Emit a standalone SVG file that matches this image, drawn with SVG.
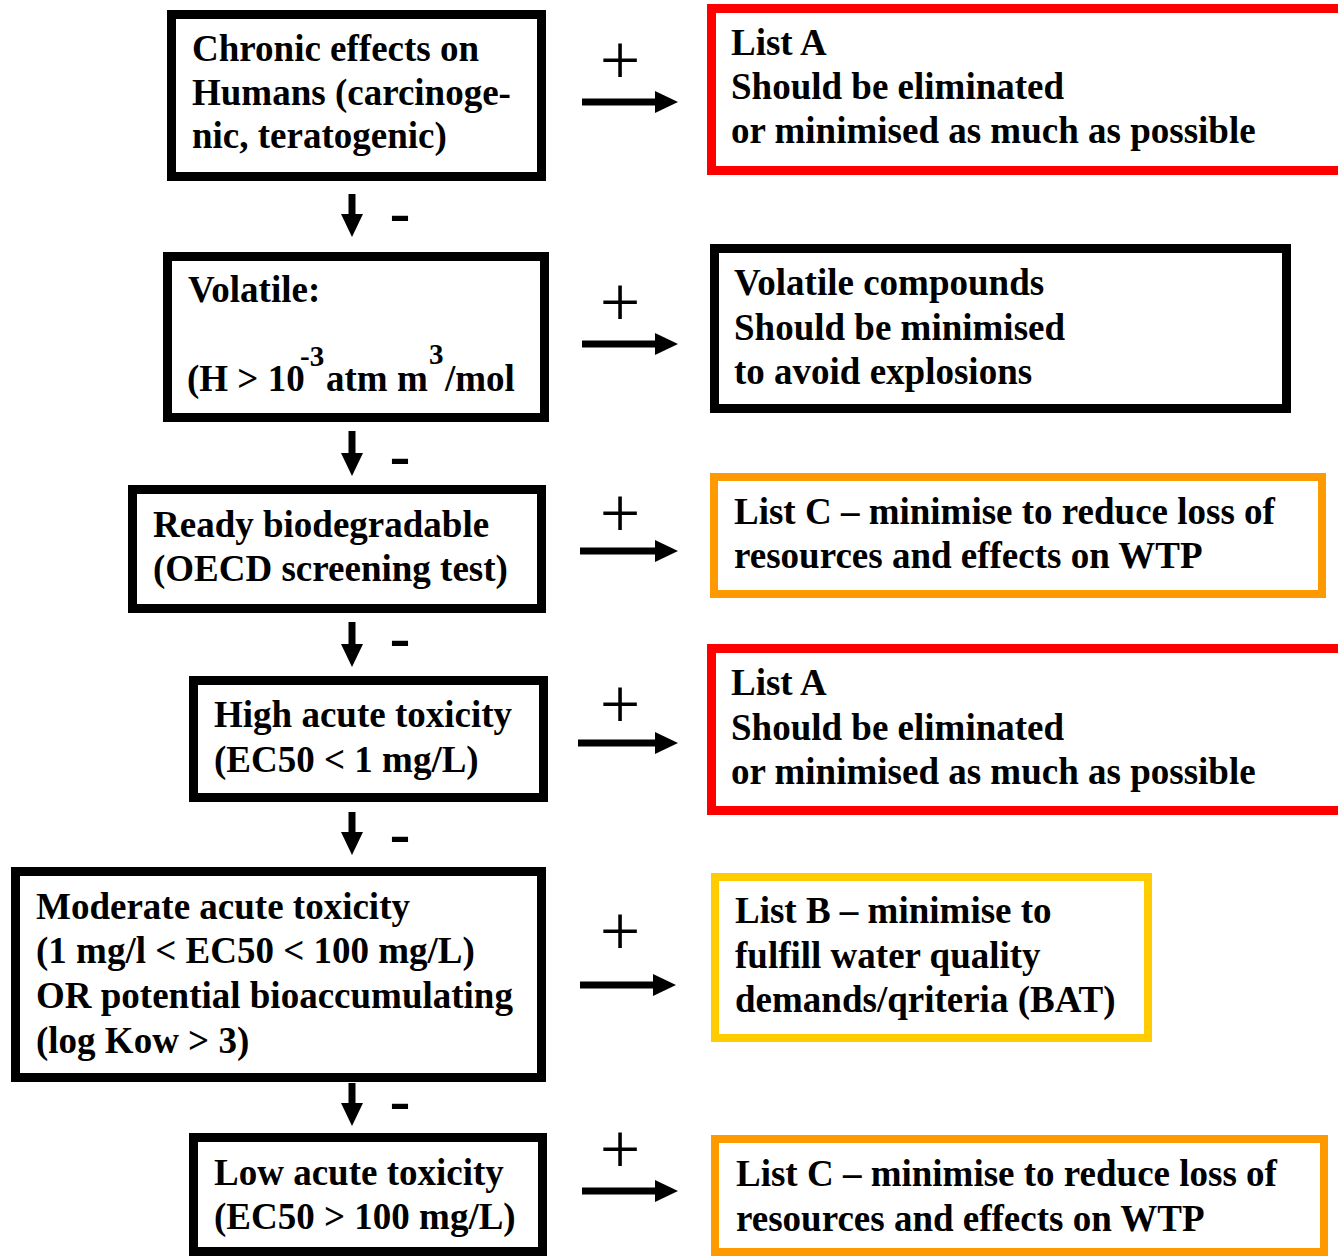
<svg xmlns="http://www.w3.org/2000/svg" width="1338" height="1256" viewBox="0 0 1338 1256">
<style>
.t{font-family:"Liberation Serif","Times New Roman",serif;font-weight:bold;font-size:37px;fill:#000}
.sup{font-size:29px}
.box{fill:#fff;stroke-width:9}
.blk{stroke:#000}
.red{stroke:#ff0000}
.org{stroke:#ff9900;stroke-width:8}
.yel{stroke:#ffcc00;stroke-width:8}
.plus{font-family:"Liberation Serif","Times New Roman",serif;font-size:72px;font-weight:normal;fill:#000;text-anchor:middle}
.minus{font-family:"Liberation Sans",Arial,sans-serif;font-size:66px;fill:#000;text-anchor:middle}
.arr{stroke:#000;stroke-width:7;fill:none;marker-end:url(#ah)}
</style>
<defs>
<marker id="ah" markerUnits="userSpaceOnUse" markerWidth="24" markerHeight="24" viewBox="0 0 24 24" refX="1" refY="12" orient="auto">
<path d="M0,1 L23,12 L0,23 Z" fill="#000"/>
</marker>
</defs>
<rect width="1338" height="1256" fill="#fff"/>

<g id="connectors">
<line class="arr" x1="582" y1="102" x2="656" y2="102"/>
<line class="arr" x1="582" y1="344" x2="656" y2="344"/>
<line class="arr" x1="580" y1="551" x2="656" y2="551"/>
<line class="arr" x1="578" y1="743" x2="656" y2="743"/>
<line class="arr" x1="580" y1="985" x2="654" y2="985"/>
<line class="arr" x1="582" y1="1191" x2="656" y2="1191"/>
<line class="arr" x1="352" y1="194" x2="352" y2="215"/>
<line class="arr" x1="352" y1="431" x2="352" y2="454"/>
<line class="arr" x1="352" y1="622" x2="352" y2="645"/>
<line class="arr" x1="352" y1="812" x2="352" y2="833"/>
<line class="arr" x1="352" y1="1083" x2="352" y2="1104"/>
<text class="plus" x="620" y="84">+</text>
<text class="plus" x="620" y="326">+</text>
<text class="plus" x="620" y="537">+</text>
<text class="plus" x="620" y="728">+</text>
<text class="plus" x="620" y="955">+</text>
<text class="plus" x="620" y="1173">+</text>
<text class="minus" x="400" y="236">-</text>
<text class="minus" x="400" y="479">-</text>
<text class="minus" x="400" y="661">-</text>
<text class="minus" x="400" y="857">-</text>
<text class="minus" x="400" y="1124">-</text>
</g>

<g id="n1">
<rect class="box blk" x="171.5" y="14.5" width="370" height="162"/>
<text class="t" x="192" y="61">Chronic effects on</text>
<text class="t" x="192" y="105">Humans (carcinoge-</text>
<text class="t" x="192" y="148">nic, teratogenic)</text>
</g>
<g id="r1">
<rect class="box red" x="711.5" y="8.5" width="700" height="162"/>
<text class="t" x="731" y="55">List A</text>
<text class="t" x="731" y="99">Should be eliminated</text>
<text class="t" x="731" y="143">or minimised as much as possible</text>
</g>

<g id="n2">
<rect class="box blk" x="167.5" y="256.5" width="377" height="161"/>
<text class="t" x="188" y="302">Volatile:</text>
<text class="t" x="187" y="391">(H &gt; 10<tspan class="sup" x="300" y="366">-3</tspan><tspan x="326" y="391">atm m</tspan><tspan class="sup" x="429" y="364">3</tspan><tspan x="445" y="391">/mol</tspan></text>
</g>
<g id="r2">
<rect class="box blk" x="714.5" y="248.5" width="572" height="160"/>
<text class="t" x="734" y="295">Volatile compounds</text>
<text class="t" x="734" y="340">Should be minimised</text>
<text class="t" x="734" y="384">to avoid explosions</text>
</g>

<g id="n3">
<rect class="box blk" x="132.5" y="489.5" width="409" height="119"/>
<text class="t" x="153" y="537">Ready biodegradable</text>
<text class="t" x="153" y="581">(OECD screening test)</text>
</g>
<g id="r3">
<rect class="box org" x="714" y="477" width="608" height="117"/>
<text class="t" x="734" y="524">List C – minimise to reduce loss of</text>
<text class="t" x="734" y="568">resources and effects on WTP</text>
</g>

<g id="n4">
<rect class="box blk" x="193.5" y="680.5" width="350" height="117"/>
<text class="t" x="214" y="727">High acute toxicity</text>
<text class="t" x="214" y="772">(EC50 &lt; 1 mg/L)</text>
</g>
<g id="r4">
<rect class="box red" x="711.5" y="648.5" width="700" height="162"/>
<text class="t" x="731" y="695">List A</text>
<text class="t" x="731" y="740">Should be eliminated</text>
<text class="t" x="731" y="784">or minimised as much as possible</text>
</g>

<g id="n5">
<rect class="box blk" x="15.5" y="871.5" width="526" height="206"/>
<text class="t" x="36" y="919">Moderate acute toxicity</text>
<text class="t" x="36" y="963">(1 mg/l &lt; EC50 &lt; 100 mg/L)</text>
<text class="t" x="36" y="1008">OR potential bioaccumulating</text>
<text class="t" x="36" y="1053">(log Kow &gt; 3)</text>
</g>
<g id="r5">
<rect class="box yel" x="715" y="877" width="433" height="161"/>
<text class="t" x="735" y="923">List B – minimise to</text>
<text class="t" x="735" y="968">fulfill water quality</text>
<text class="t" x="735" y="1012">demands/qriteria (BAT)</text>
</g>

<g id="n6">
<rect class="box blk" x="193.5" y="1137.5" width="349" height="114"/>
<text class="t" x="214" y="1185">Low acute toxicity</text>
<text class="t" x="214" y="1229">(EC50 &gt; 100 mg/L)</text>
</g>
<g id="r6">
<rect class="box org" x="715" y="1139" width="609" height="113"/>
<text class="t" x="736" y="1186">List C – minimise to reduce loss of</text>
<text class="t" x="736" y="1231">resources and effects on WTP</text>
</g>
</svg>
